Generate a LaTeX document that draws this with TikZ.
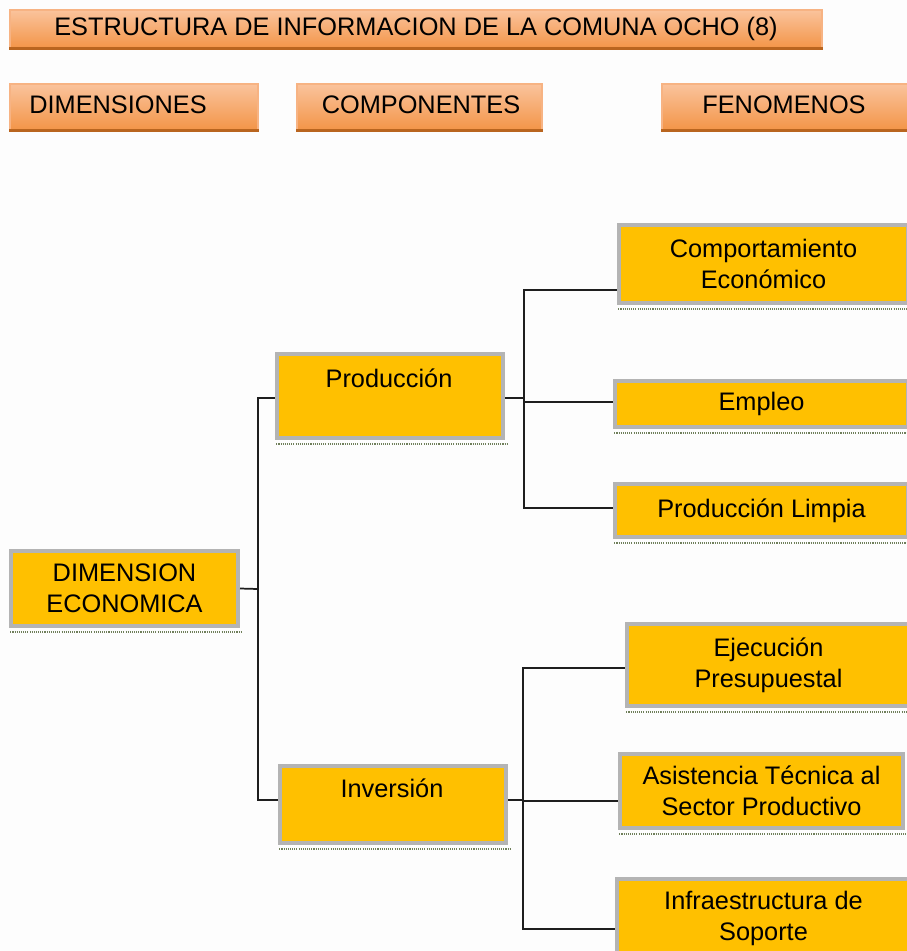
\documentclass[tikz,border=0pt]{standalone}
\usepackage{fontspec}
\setmainfont{Liberation Sans}
\definecolor{gold}{HTML}{FFC000}
\definecolor{boxgray}{HTML}{B4B4B4}
\definecolor{shadowc}{HTML}{6F7F5A}
\definecolor{orlight}{HTML}{FAC39C}
\definecolor{ordark}{HTML}{F39548}
\definecolor{oredge}{HTML}{F7B383}
\definecolor{orbottom}{HTML}{B9651F}
\definecolor{linec}{HTML}{1E1E1E}
\definecolor{bgc}{HTML}{FDFDFD}
\tikzset{
  txt/.style={font=\fontsize{19}{23}\selectfont, text=black, align=center, inner sep=0pt},
  goldbox/.style={txt, fill=gold, draw=boxgray, line width=3pt},
  orbox/.style={txt, top color=orlight, bottom color=ordark, draw=oredge, line width=0.8pt},
  orbase/.style={draw=orbottom, line width=1.8pt},
  shadowline/.style={draw=shadowc, line width=1.6pt, dash pattern=on 0.8pt off 0.8pt},
  conn/.style={draw=linec, line width=1.3pt},
}
\begin{document}
\begin{tikzpicture}[x=0.75pt,y=-0.75pt]
\clip (0,0) rectangle (907,951);
\fill[bgc] (0,0) rectangle (907,951);

% header boxes
\node[orbox, minimum width=812*0.75pt, minimum height=38*0.75pt] (title) at (416,29) {ESTRUCTURA DE INFORMACION DE LA COMUNA OCHO (8)};
\node[orbox, minimum width=248*0.75pt, minimum height=46*0.75pt] (hdim) at (134,107) {};
\node[txt] (hdimt) at (118,105) {DIMENSIONES};
\node[orbox, minimum width=245*0.75pt, minimum height=46*0.75pt] (hcomp) at (419.5,107) {};
\node[txt] (hcompt) at (421,105) {COMPONENTES};
\node[orbox, minimum width=248*0.75pt, minimum height=46*0.75pt] (hfen) at (786,107) {};
\node[txt] (hfent) at (784,105) {FENOMENOS};
\draw[orbase] (title.south west) -- (title.south east);
\draw[orbase] (hdim.south west) -- (hdim.south east);
\draw[orbase] (hcomp.south west) -- (hcomp.south east);
\draw[orbase] (hfen.south west) -- (hfen.south east);

% gold boxes
\node[goldbox, minimum width=227*0.75pt, minimum height=75*0.75pt] (dim) at (124.5,588.5) {DIMENSION\\ECONOMICA};
\node[goldbox, minimum width=226*0.75pt, minimum height=84*0.75pt] (prod) at (390,396) {};
\node[goldbox, minimum width=226*0.75pt, minimum height=77*0.75pt] (inv) at (393,804.5) {};
\node[goldbox, minimum width=289*0.75pt, minimum height=78*0.75pt] (comp) at (763.5,264) {Comportamiento\\Económico};
\node[goldbox, minimum width=293*0.75pt, minimum height=46*0.75pt] (emp) at (761.5,404) {Empleo};
\node[goldbox, minimum width=293*0.75pt, minimum height=53*0.75pt] (lim) at (761.5,510.5) {Producción Limpia};
\node[goldbox, minimum width=283*0.75pt, minimum height=82*0.75pt] (eje) at (768.5,665) {Ejecución\\Presupuestal};
\node[goldbox, minimum width=283*0.75pt, minimum height=74*0.75pt] (asi) at (761.5,791) {Asistencia Técnica al\\Sector Productivo};
\node[goldbox, minimum width=293*0.75pt, minimum height=79*0.75pt] (inf) at (763.5,918.5) {Infraestructura de\\Soporte};
\node[txt] (prodt) at (389,378) {Producción};
\node[txt] (invt) at (392,788) {Inversión};

% shadows
\foreach \b in {dim,prod,inv,comp,emp,lim,eje,asi,inf}{
  \draw[shadowline] ([yshift=-2.8pt,xshift=1pt]\b.south west) -- ([yshift=-2.8pt,xshift=2pt]\b.south east);
}

% connectors
\coordinate (j1) at (258,589);
\coordinate (j2) at (524,398);
\coordinate (j3) at (523,800);
\draw[conn] (dim.east) -- (j1);
\draw[conn] (j1) |- ([yshift=-1.5pt]prod.west);
\draw[conn] (j1) |- ([yshift=3.4pt]inv.west);
\draw[conn] ([yshift=-1.5pt]prod.east) -- (j2);
\draw[conn] (j2) |- ([yshift=-19.5pt]comp.west);
\draw[conn] (j2) |- ([yshift=1.5pt]emp.west);
\draw[conn] (j2) |- ([yshift=1.8pt]lim.west);
\draw[conn] ([yshift=3.4pt]inv.east) -- (j3);
\draw[conn] (j3) |- ([yshift=-2.2pt]eje.west);
\draw[conn] (j3) |- ([yshift=-7.5pt]asi.west);
\draw[conn] (j3) |- ([yshift=-7.9pt]inf.west);
\end{tikzpicture}
\end{document}
